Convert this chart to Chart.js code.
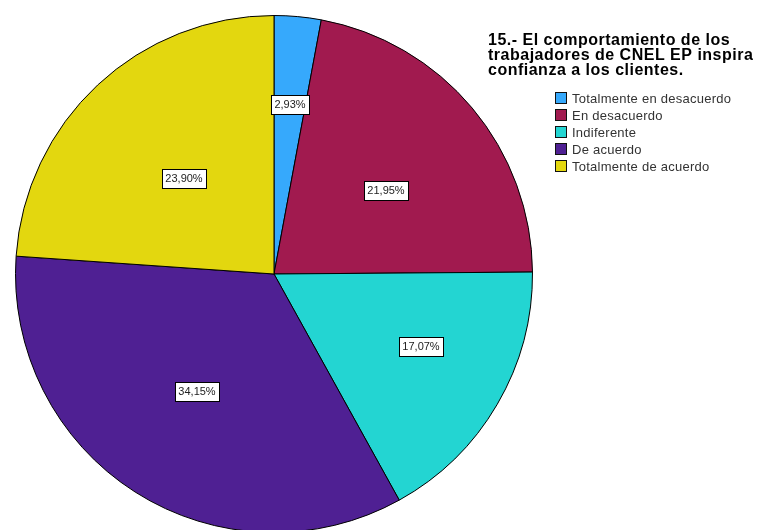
<!DOCTYPE html>
<html>
<head>
  <meta charset="utf-8">
  <title>Pregunta 15 - CNEL EP</title>
  <script src="https://cdn.jsdelivr.net/npm/chart.js@4.4.1/dist/chart.umd.min.js"></script>
  <style>
    html, body { margin: 0; padding: 0; background: #fff; overflow: hidden; }
    #wrap { position: relative; width: 758px; height: 530px; overflow: hidden; }
  </style>
</head>
<body>
  <div id="wrap">
    <canvas id="pieChart" width="758" height="550"></canvas>
  </div>

  <script>
    const titleLines = [
      '15.- El comportamiento de los',
      'trabajadores de CNEL EP inspira',
      'confianza a los clientes.'
    ];
    const categories = [
      'Totalmente en desacuerdo',
      'En desacuerdo',
      'Indiferente',
      'De acuerdo',
      'Totalmente de acuerdo'
    ];
    const percents = [2.93, 21.95, 17.07, 34.15, 23.90];
    const sliceColors = ['#36a9fc', '#a11a4f', '#23d5d2', '#4f2093', '#e3d70f'];

    // where each percentage box sits: fraction of the radius and a small angle nudge (degrees)
    const labelRadius = [0.66, 0.54, 0.633, 0.54, 0.51];
    const labelNudge = [0, 3, -4, 0.8, 0];

    const FONT = "'Liberation Sans', Arial, sans-serif";

    function pctText(v) {
      return v.toFixed(2).replace('.', ',') + '%';
    }

    const sliceLabels = {
      id: 'sliceLabels',
      afterDatasetsDraw(chart) {
        const ctx = chart.ctx;
        const arcs = chart.getDatasetMeta(0).data;
        ctx.save();
        ctx.font = '11px ' + FONT;
        ctx.textAlign = 'center';
        ctx.textBaseline = 'middle';
        arcs.forEach((arc, i) => {
          const p = arc.getProps(['x', 'y', 'startAngle', 'endAngle', 'outerRadius'], true);
          const mid = (p.startAngle + p.endAngle) / 2 + labelNudge[i] * Math.PI / 180;
          const r = p.outerRadius * labelRadius[i];
          const cx = Math.round(p.x + Math.cos(mid) * r);
          const cy = Math.round(p.y + Math.sin(mid) * r);
          const txt = pctText(chart.data.datasets[0].data[i]);
          const w = Math.ceil(ctx.measureText(txt).width) + 6;
          const h = 19;
          const bx = Math.round(cx - w / 2) + 0.5;
          const by = Math.round(cy - h / 2) + 0.5;
          ctx.fillStyle = '#fff';
          ctx.fillRect(bx, by, w, h);
          ctx.strokeStyle = '#000';
          ctx.lineWidth = 1;
          ctx.strokeRect(bx, by, w, h);
          ctx.fillStyle = '#222';
          ctx.fillText(txt, cx, cy + 0.5);
        });
        ctx.restore();
      }
    };

    const sideTitleLegend = {
      id: 'sideTitleLegend',
      afterDraw(chart) {
        const ctx = chart.ctx;
        ctx.save();
        ctx.textAlign = 'left';
        ctx.textBaseline = 'alphabetic';

        ctx.fillStyle = '#000';
        ctx.font = 'bold 16px ' + FONT;
        ctx.letterSpacing = '0.5px';
        titleLines.forEach((line, i) => {
          ctx.fillText(line, 488, 45 + i * 15);
        });

        ctx.font = '13px ' + FONT;
        ctx.letterSpacing = '0.25px';
        const colors = chart.data.datasets[0].backgroundColor;
        chart.data.labels.forEach((name, i) => {
          const y = Math.round(92 + i * 17);
          ctx.fillStyle = colors[i];
          ctx.fillRect(555.5, y + 0.5, 11, 11);
          ctx.strokeStyle = '#111';
          ctx.lineWidth = 1;
          ctx.strokeRect(555.5, y + 0.5, 11, 11);
          ctx.fillStyle = '#333';
          ctx.fillText(name, 572, y + 11);
        });
        ctx.restore();
      }
    };

    const data = {
      labels: categories,
      datasets: [{
        data: percents,
        backgroundColor: sliceColors,
        borderColor: '#000',
        borderWidth: 1
      }]
    };

    const config = {
      type: 'pie',
      data: data,
      options: {
        responsive: false,
        animation: false,
        layout: {
          padding: { left: 15, top: 15, right: 225, bottom: 17 }
        },
        plugins: {
          legend: { display: false },
          title: { display: false },
          tooltip: { enabled: false }
        }
      },
      plugins: [sliceLabels, sideTitleLegend]
    };

    new Chart(document.getElementById('pieChart'), config);
  </script>
</body>
</html>
